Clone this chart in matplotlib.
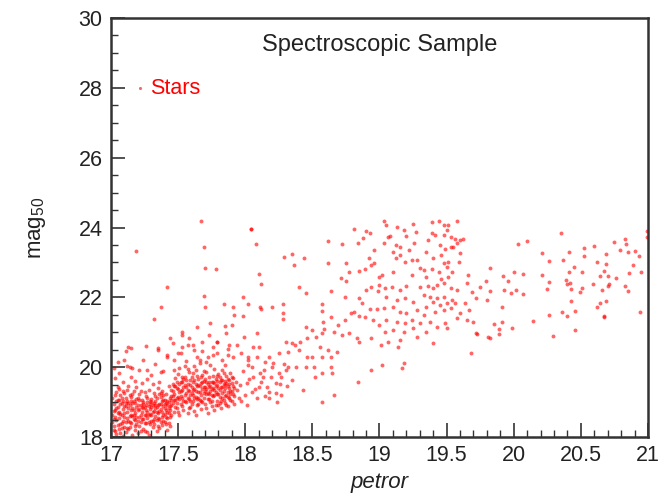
import matplotlib
matplotlib.use('Agg')
import matplotlib.pyplot as plt
import numpy as np
from matplotlib.ticker import MultipleLocator

plt.rcParams['font.family'] = ['Liberation Sans', 'DejaVu Sans']
plt.rcParams['mathtext.fontset'] = 'custom'
plt.rcParams['mathtext.rm'] = 'Liberation Sans'
plt.rcParams['mathtext.it'] = 'Liberation Sans:italic'

# (petror, mag50) pairs, grouped by region

# dense bright-end clump, petror 17.0 - 17.45
core_a = [(17.01,18.62),(17.02,18.95),(17.02,18.31),(17.03,19.21),(17.03,18.78),(17.04,18.08),(17.04,18.49),(17.05,19.05),
          (17.05,18.86),(17.06,18.22),(17.06,19.38),(17.07,18.67),(17.07,18.94),(17.08,18.41),(17.08,19.12),(17.09,18.02),
          (17.09,18.79),(17.10,18.56),(17.10,19.27),(17.11,18.88),(17.11,18.15),(17.12,18.71),(17.12,19.02),(17.13,18.47),
          (17.13,19.46),(17.14,18.93),(17.14,18.28),(17.15,18.63),(17.15,19.15),(17.16,18.82),(17.16,18.05),(17.17,18.51),
          (17.17,19.31),(17.18,18.97),(17.18,18.69),(17.19,18.36),(17.19,19.08),(17.20,18.77),(17.20,18.12),(17.21,18.58),
          (17.21,19.22),(17.22,18.91),(17.22,18.43),(17.23,19.55),(17.23,18.73),(17.24,18.24),(17.24,19.01),(17.25,18.64),
          (17.25,18.86),(17.26,19.18),(17.26,18.39),(17.27,18.99),(17.27,18.55),(17.28,18.07),(17.28,19.35),(17.29,18.81),
          (17.29,18.66),(17.30,19.09),(17.30,18.47),(17.31,18.92),(17.31,18.29),(17.32,19.26),(17.32,18.74),(17.33,18.59),
          (17.33,19.04),(17.34,18.87),(17.34,18.18),(17.35,19.41),(17.35,18.68),(17.36,18.96),(17.36,18.51),(17.37,19.14),
          (17.37,18.79),(17.38,18.34),(17.38,19.32),(17.39,18.89),(17.39,18.62),(17.40,19.07),(17.40,18.44),(17.41,18.98),
          (17.41,19.23),(17.42,18.71),(17.42,18.21),(17.43,19.47),(17.43,18.84),(17.44,19.11),(17.44,18.56),(17.45,18.93),
          (17.45,19.36),(17.01,19.12),(17.02,18.53),(17.03,18.17),(17.04,18.84),(17.05,19.42),(17.06,18.72),(17.07,18.36),
          (17.08,18.97),(17.09,19.31),(17.10,18.68),(17.11,18.44),(17.12,18.25),(17.13,18.83),(17.14,19.19),(17.15,18.39),
          (17.16,18.98),(17.17,18.76),(17.18,18.21),(17.19,19.43),(17.20,18.91),(17.21,18.33),(17.22,18.64),(17.23,19.07),
          (17.24,18.52),(17.25,19.29),(17.26,18.77),(17.27,18.13),(17.28,18.88),(17.29,19.03),(17.30,18.62),(17.31,19.51),
          (17.32,18.37),(17.33,18.84),(17.34,19.13),(17.35,18.55),(17.36,18.26),(17.37,18.95),(17.38,18.71),(17.39,19.21),
          (17.40,18.82),(17.41,18.58),(17.42,19.04),(17.43,18.39),(17.44,18.76),(17.45,19.18),(17.02,18.75),(17.04,19.02),
          (17.06,18.55),(17.08,18.27),(17.10,18.89),(17.12,19.36),(17.14,18.59),(17.16,19.24),(17.18,18.48),(17.20,19.12),
          (17.22,18.17),(17.24,18.83),(17.26,18.62),(17.28,18.44),(17.30,18.86),(17.32,18.97),(17.34,18.48),(17.36,19.22),
          (17.38,18.57),(17.40,18.67),(17.42,18.91),(17.44,18.32),(17.01,18.44),(17.03,18.58),(17.04,19.29),(17.05,18.35),
          (17.06,19.07),(17.07,18.11),(17.08,18.62),(17.09,19.02),(17.10,18.29),(17.11,19.11),(17.12,18.54),(17.13,18.98),
          (17.14,18.42),(17.15,18.77),(17.16,18.61),(17.17,19.04),(17.18,18.33),(17.19,18.86),(17.20,18.45),(17.21,18.81),
          (17.22,19.31),(17.23,18.52),(17.24,18.96),(17.25,18.41),(17.26,18.93),(17.27,18.71),(17.28,18.62),(17.29,18.36),
          (17.30,18.99),(17.31,18.71),(17.32,18.53),(17.33,19.18),(17.34,18.71),(17.35,18.93),(17.36,18.74),(17.37,18.44),
          (17.38,19.03),(17.39,18.47),(17.40,18.95),(17.41,18.78),(17.42,18.54),(17.43,19.01),(17.44,18.88),(17.45,18.63),
          (17.02,18.19),(17.05,18.69),(17.07,19.19),(17.09,18.47),(17.11,18.97),(17.13,18.22),(17.15,19.03),(17.17,18.64),
          (17.19,18.58),(17.21,19.06),(17.23,18.85),(17.25,18.17),(17.27,19.11),(17.29,18.94),(17.31,18.45),(17.33,18.91),
          (17.35,18.32),(17.37,19.26),(17.39,19.05),(17.41,18.36),(17.43,18.69),(17.45,19.05)]

# dense clump, petror 17.45 - 17.95
core_b = [(17.46,19.52),(17.46,18.97),(17.47,19.24),(17.47,18.71),(17.48,19.68),(17.48,19.05),(17.49,18.83),(17.49,19.39),
          (17.50,19.14),(17.50,19.81),(17.51,18.62),(17.51,19.29),(17.52,19.57),(17.52,18.94),(17.53,19.11),(17.53,19.73),
          (17.54,18.78),(17.54,19.44),(17.55,19.21),(17.55,20.02),(17.56,18.99),(17.56,19.63),(17.57,19.34),(17.57,18.68),
          (17.58,19.87),(17.58,19.08),(17.59,19.49),(17.59,18.87),(17.60,19.26),(17.60,19.71),(17.61,19.02),(17.61,19.58),
          (17.62,18.74),(17.62,19.37),(17.63,19.92),(17.63,19.16),(17.64,19.47),(17.64,18.91),(17.65,19.66),(17.65,19.29),
          (17.66,19.05),(17.66,20.11),(17.67,19.54),(17.67,18.81),(17.68,19.38),(17.68,19.79),(17.69,19.12),(17.69,19.61),
          (17.70,18.96),(17.70,19.44),(17.71,19.85),(17.71,19.23),(17.72,18.69),(17.72,19.52),(17.73,19.09),(17.73,19.73),
          (17.74,19.33),(17.74,20.05),(17.75,18.88),(17.75,19.58),(17.76,19.17),(17.76,19.41),(17.77,19.95),(17.77,18.77),
          (17.78,19.28),(17.78,19.67),(17.79,19.02),(17.79,19.49),(17.80,19.81),(17.80,18.93),(17.81,19.36),(17.81,19.14),
          (17.82,19.62),(17.82,18.84),(17.83,19.27),(17.83,19.91),(17.84,19.07),(17.84,19.53),(17.85,18.98),(17.85,19.39),
          (17.86,19.74),(17.86,19.19),(17.87,18.89),(17.87,19.46),(17.88,19.11),(17.88,19.63),(17.89,19.32),(17.90,19.04),
          (17.90,19.55),(17.91,19.24),(17.92,18.94),(17.46,19.18),(17.47,19.91),(17.48,18.86),(17.49,19.58),(17.50,18.73),
          (17.51,19.97),(17.52,19.31),(17.53,18.89),(17.54,19.66),(17.55,19.04),(17.56,19.42),(17.57,19.94),(17.58,18.82),
          (17.59,19.19),(17.60,18.95),(17.61,19.83),(17.62,19.12),(17.63,18.63),(17.64,19.74),(17.65,18.94),(17.66,19.47),
          (17.67,19.21),(17.68,18.99),(17.69,19.88),(17.70,19.31),(17.71,18.84),(17.72,19.26),(17.73,19.42),(17.74,18.99),
          (17.75,19.21),(17.76,19.76),(17.77,19.36),(17.78,18.91),(17.79,19.74),(17.80,19.22),(17.81,19.58),(17.82,19.03),
          (17.83,19.44),(17.84,19.82),(17.85,19.18),(17.86,18.92),(17.87,19.66),(17.88,19.39),(17.89,19.82),(17.90,19.31),
          (17.91,19.68),(17.92,19.41),(17.47,19.46),(17.49,19.12),(17.51,19.08),(17.53,19.36),(17.55,19.48),(17.57,19.13),
          (17.59,19.63),(17.61,19.34),(17.63,19.51),(17.65,19.12),(17.67,19.71),(17.69,19.27),(17.71,19.57),(17.73,19.22),
          (17.75,19.37),(17.77,19.56),(17.79,19.24),(17.81,19.71),(17.83,19.11),(17.85,19.61),(17.87,19.28),(17.89,19.07),
          (17.46,19.33),(17.47,19.06),(17.48,19.47),(17.49,18.97),(17.50,19.37),(17.51,19.52),(17.52,19.18),(17.53,19.58),
          (17.54,19.02),(17.55,19.71),(17.56,19.25),(17.57,19.51),(17.58,19.33),(17.59,19.04),(17.60,19.44),(17.61,19.21),
          (17.62,19.64),(17.63,19.33),(17.64,19.08),(17.65,19.49),(17.66,19.28),(17.67,19.04),(17.68,19.57),(17.69,19.43),
          (17.70,19.67),(17.71,19.38),(17.72,19.09),(17.73,19.59),(17.74,19.47),(17.75,19.04),(17.76,19.58),(17.77,19.19),
          (17.78,19.47),(17.79,19.61),(17.80,19.39),(17.81,18.98),(17.82,19.44),(17.83,19.63),(17.84,19.31),(17.85,19.49),
          (17.86,19.54),(17.87,19.14),(17.88,19.52),(17.89,19.22),(17.90,19.71),(17.91,19.46),(17.92,19.17),(17.93,19.58),
          (17.94,19.36),(17.95,19.12)]

# looser points just above and beside the clumps
halo = [(17.03,19.68),(17.06,19.84),(17.09,19.57),(17.12,20.02),(17.15,19.72),(17.18,19.61),(17.21,19.93),(17.24,20.21),
        (17.27,19.66),(17.30,19.79),(17.33,20.08),(17.36,19.58),(17.39,19.88),(17.42,20.34),(17.11,20.45),(17.26,20.62),
        (17.05,20.15),(17.35,20.48),(17.02,19.98),(17.47,20.22),(17.52,20.41),(17.56,20.18),(17.61,20.64),(17.64,20.29),
        (17.68,20.47),(17.71,20.15),(17.76,20.36),(17.79,20.71),(17.83,20.21),(17.87,20.52),(17.58,20.85),(17.73,20.92),
        (17.53,21.02),(17.85,20.05),(17.91,20.28),(17.62,20.03),(17.96,19.48),(17.98,19.89),(18.00,19.21),(18.03,19.65),
        (18.05,20.01),(18.07,19.38),(18.09,19.12),(18.12,19.58),(18.14,19.93),(18.16,19.42),(18.19,19.71),(18.21,20.12),
        (18.23,19.27),(18.26,19.51),(18.29,20.08),(18.31,19.46),(17.97,19.04),(18.01,18.92),(18.15,19.18)]

# sparse points, petror < 18.1
left_sparse = [(17.67,24.19),(18.04,23.95),(17.19,23.33),(17.69,23.44),(17.70,22.83),(17.78,22.80),(17.42,22.30),
               (17.69,22.04),(17.98,22.00),(17.37,21.73),(17.70,21.73),(17.84,21.80),(17.91,21.71),(18.02,21.80),
               (17.32,21.39),(17.92,21.50),(17.98,21.47),(17.74,21.26),(17.64,21.16),(17.85,21.18),(17.90,21.21),
               (17.44,20.83),(17.53,20.92),(17.35,20.54),(17.46,20.68),(17.53,20.59),(17.57,20.63),(17.68,20.73),
               (17.79,20.73),(17.76,20.59),(17.99,20.87),(17.88,20.63),(17.94,20.63),(17.42,20.30),(17.50,20.40),
               (17.62,20.49),(17.66,20.21),(17.72,20.30),(17.79,20.40),(17.87,20.35),(17.97,20.40),(18.02,20.21),
               (17.14,20.01),(17.16,19.98),(17.27,19.92),(17.37,19.87),(18.11,21.71),(17.86,20.97),(18.09,20.97),
               (17.13,20.59),(17.15,20.56),(17.10,20.22)]

# rising band, petror 18.0 - 19.05
middle = [(18.04,23.96),(18.08,23.52),(18.29,23.16),(18.35,23.25),(18.36,22.93),(18.44,23.13),(18.10,22.67),(18.12,22.37),
          (18.40,22.30),(18.45,22.13),(18.12,21.67),(18.20,21.73),(18.28,21.80),(18.28,21.56),(18.28,21.39),(18.57,21.80),
          (18.57,21.61),(18.64,22.18),(18.62,22.97),(18.62,23.61),(18.72,23.52),(18.75,22.97),(18.75,22.46),(18.71,22.56),
          (18.77,22.73),(18.81,23.96),(18.84,23.55),(18.90,23.91),(18.93,23.85),(18.88,23.69),(18.96,23.36),(18.92,23.13),
          (18.94,22.93),(18.85,22.75),(18.89,22.80),(18.96,22.97),(19.03,23.55),(19.02,22.64),(18.74,22.00),(18.85,21.97),
          (18.90,22.21),(18.94,22.30),(18.99,22.18),(18.87,21.83),(18.93,21.67),(18.98,21.67),(18.81,21.58),(18.85,21.47),
          (18.89,21.43),(18.95,21.35),(19.00,21.21),(18.79,21.54),(18.74,21.35),(18.69,21.21),(18.64,21.44),(18.58,21.30),
          (18.59,21.08),(18.66,21.02),(18.72,20.92),(18.77,20.97),(18.57,20.97),(18.50,21.06),(18.45,21.16),(18.53,20.87),
          (18.46,20.83),(18.37,20.63),(18.41,20.73),(18.35,20.68),(18.30,20.73),(18.83,20.83),(18.85,20.73),(18.94,20.83),
          (19.01,20.63),(18.56,20.59),(18.62,20.49),(18.68,20.44),(18.64,20.30),(18.57,20.30),(18.50,20.30),(18.51,20.01),
          (18.57,19.82),(18.64,20.01),(18.65,19.82),(18.45,20.01),(18.38,20.01),(18.32,20.01),(18.30,19.92),(18.27,19.73),
          (18.25,19.82),(18.20,20.01),(18.18,20.30),(18.15,20.16),(18.10,20.59),(18.06,20.59),(18.02,20.30),(18.09,20.30),
          (18.02,20.06),(18.11,19.82),(18.06,19.73),(18.13,19.73),(18.23,19.54),(18.10,19.44),(18.05,19.30),(18.18,19.30),
          (18.27,19.20),(18.43,19.35),(18.18,19.11),(18.24,19.01),(18.57,19.01),(18.66,19.20),(18.84,19.58),(18.94,19.92),
          (19.02,20.06),(18.32,20.44),(18.40,20.49),(18.25,20.40),(18.46,20.30),(18.52,19.73),(18.35,19.63),(18.01,19.54)]

# second clump around petror 19.0 - 19.8
peak = [(19.18,20.11),(19.17,19.97),(19.40,20.68),(19.35,21.02),(19.13,24.02),(19.25,24.10),
        (19.03,24.19),(19.05,24.07),(19.18,23.93),(19.27,23.88),(19.39,24.15),(19.44,24.19),(19.48,24.07),(19.51,24.07),
        (19.58,24.19),(19.06,23.74),(19.08,23.76),(19.12,23.49),(19.15,23.45),(19.20,23.76),(19.26,23.55),(19.22,23.36),
        (19.39,23.83),(19.41,23.78),(19.48,23.80),(19.50,23.93),(19.53,23.72),(19.56,23.66),(19.60,23.64),(19.62,23.66),
        (19.58,23.56),(19.55,23.45),(19.36,23.64),(19.35,23.31),(19.45,23.50),(19.49,23.38),(19.53,23.43),(19.60,23.26),
        (19.10,23.31),(19.15,23.21),(19.19,23.02),(19.12,23.12),(19.24,23.07),(19.28,23.07),(19.40,23.12),(19.46,23.21),
        (19.48,22.97),(19.51,23.02),(19.59,23.02),(19.30,22.83),(19.33,22.78),(19.39,22.80),(19.44,22.73),(19.50,22.88),
        (19.54,22.73),(19.10,22.73),(19.00,22.59),(19.24,22.64),(19.35,22.59),(19.46,22.54),(19.51,22.59),(19.66,22.64),
        (19.79,22.48),(19.00,22.35),(19.04,22.26),(19.09,22.29),(19.15,22.21),(19.20,22.32),(19.30,22.29),(19.36,22.32),
        (19.40,22.26),(19.43,22.35),(19.48,22.40),(19.53,22.26),(19.58,22.21),(19.65,22.40),(19.69,22.16),(19.75,22.30),
        (19.05,22.02),(19.13,21.92),(19.19,21.97),(19.25,21.87),(19.33,22.07),(19.38,22.02),(19.43,21.97),(19.48,22.02),
        (19.50,21.83),(19.54,21.92),(19.56,21.83),(19.40,21.87),(19.45,21.78),(19.64,21.83),(19.72,21.97),(19.80,21.92),
        (19.03,21.69),(19.10,21.73),(19.15,21.59),(19.20,21.54),(19.28,21.64),(19.35,21.73),(19.41,21.59),(19.48,21.64),
        (19.53,21.69),(19.60,21.54),(19.67,21.64),(19.33,21.49),(19.05,21.35),(19.13,21.30),(19.19,21.26),(19.24,21.35),
        (19.30,21.26),(19.38,21.30),(19.43,21.16),(19.49,21.26),(19.58,21.40),(19.65,21.35),(19.70,21.30),(19.04,21.02),
        (19.10,21.06),(19.18,21.02),(19.25,21.11),(19.50,21.11),(19.72,20.97),(19.81,20.87),(19.06,20.73),(19.15,20.78),
        (19.28,20.87),(19.14,20.59),(19.68,20.41),(19.73,20.95)]

# faint tail, petror > 19.8
tail = [(20.35,23.83),(20.03,23.53),(20.10,23.62),(20.21,23.27),(20.26,23.03),(20.41,23.30),(20.37,23.07),(20.52,23.42),
        (20.52,23.19),(20.60,23.48),(20.75,23.59),(20.83,23.66),(20.84,23.53),(20.79,23.36),(20.85,23.30),(20.90,23.34),
        (20.93,23.19),(20.99,23.91),(20.99,23.72),(20.69,23.25),(20.62,23.00),(20.69,22.95),(20.89,22.93),(19.82,22.83),
        (19.92,22.62),(20.00,22.73),(20.07,22.66),(19.96,22.48),(20.21,22.64),(20.26,22.44),(20.41,22.73),(20.45,22.86),
        (20.51,22.72),(20.39,22.50),(20.42,22.42),(20.40,22.38),(20.43,22.24),(20.25,22.24),(20.49,22.16),(20.51,22.28),
        (20.64,22.62),(20.67,22.76),(20.70,22.62),(20.76,22.56),(20.86,22.69),(20.95,22.72),(20.59,22.37),(20.66,22.21),
        (20.70,22.32),(20.71,22.38),(20.83,22.33),(20.85,22.18),(19.82,22.18),(19.93,22.21),(19.98,22.13),(20.02,22.21),
        (20.07,22.10),(20.43,21.91),(20.64,21.84),(20.62,21.73),(20.69,21.91),(19.91,21.71),(20.46,21.62),(20.36,21.57),
        (20.40,21.47),(20.26,21.50),(20.67,21.47),(20.67,21.44),(20.94,21.58),(20.14,21.33),(19.91,21.30),(19.85,21.24),
        (19.89,21.08),(19.99,21.12),(19.89,20.94),(19.82,20.83),(20.29,20.89),(20.46,21.06)]

pts = np.array(core_a + core_b + halo + left_sparse + middle + peak + tail)

fig = plt.figure(figsize=(6.65, 5.01), dpi=100)
ax = fig.add_axes([0.1669, 0.1277, 0.8075, 0.8363])

ax.scatter(pts[:, 0], pts[:, 1], s=8, marker='o', color='#ff0000', alpha=0.6,
           linewidths=0, label='Stars')

ax.set_xlim(17, 21)
ax.set_ylim(18, 30)
ax.xaxis.set_major_locator(MultipleLocator(0.5))
ax.xaxis.set_minor_locator(MultipleLocator(0.1))
ax.yaxis.set_major_locator(MultipleLocator(2))
ax.yaxis.set_minor_locator(MultipleLocator(0.5))
ax.set_xticks([17, 17.5, 18, 18.5, 19, 19.5, 20, 20.5, 21])
ax.set_xticklabels(['17', '17.5', '18', '18.5', '19', '19.5', '20', '20.5', '21'])
ax.tick_params(which='both', direction='in', top=False, right=False,
               labelsize=15.5, colors='#333333', labelcolor='#222222')
ax.tick_params(which='major', length=10, width=1.2, pad=6)
ax.tick_params(which='minor', length=5, width=1.0)
for s in ax.spines.values():
    s.set_linewidth(1.8)
    s.set_color('#333333')

ax.set_xlabel('petror', fontsize=16, style='italic', color='#222222', labelpad=4)
ax.set_ylabel(r'mag$_{\mathregular{50}}$', fontsize=16, color='#222222', labelpad=22)

ax.text(0.5, 0.935, 'Spectroscopic Sample', transform=ax.transAxes,
        ha='center', va='center', fontsize=17, color='#222222')

ax.legend(loc='center left', bbox_to_anchor=(0.005, 0.833), frameon=False,
          fontsize=15.5, labelcolor='#ff0000', handlelength=0.6,
          handletextpad=0.2, markerscale=0.8, scatterpoints=1)

fig.savefig('out.png', dpi=100)
